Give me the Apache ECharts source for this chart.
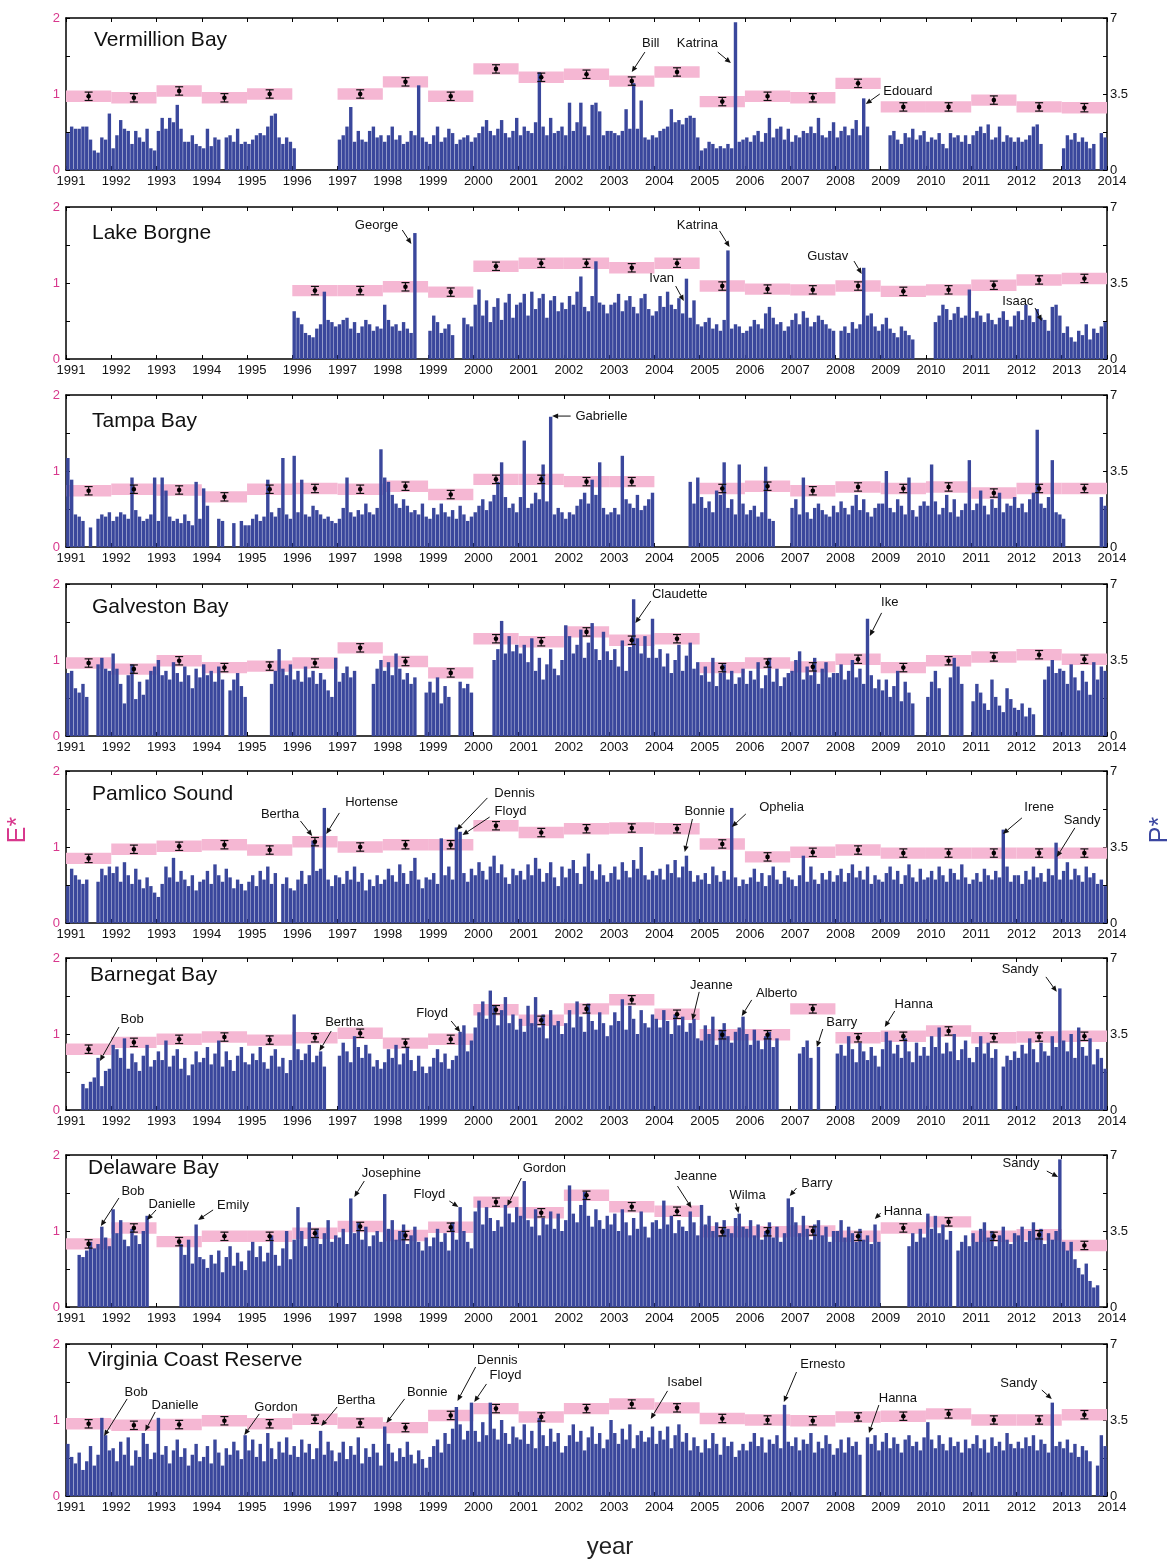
<!DOCTYPE html>
<html>
<head>
<meta charset="utf-8">
<script src="https://cdn.jsdelivr.net/npm/echarts@6/dist/echarts.min.js"></script>
<style>
html, body { margin: 0; padding: 0; background: #fff; }
#chart { width: 1173px; height: 1560px; }
</style>
</head>
<body>
<div id="chart"></div>
<script>
// Monthly P* per year (rows 1991..2013, 12 values each; null = no record)
const FIRST_YEAR = 1991;
const LAST_YEAR = 2014;

const vermillionP = [
  [1.7,2.0,1.9,1.9,2.0,2.0,1.4,0.9,0.8,1.5,1.4,2.6],
  [1.0,1.6,2.3,1.9,1.8,1.2,1.8,1.5,1.3,1.9,1.0,0.9],
  [1.8,2.4,1.9,2.4,2.2,3.0,1.9,1.3,1.3,1.6,1.2,1.1],
  [1.0,1.9,1.1,1.5,1.4,null,1.5,1.6,1.3,1.9,1.2,1.3],
  [1.2,1.4,1.6,1.7,1.6,2.0,2.5,2.6,1.5,1.2,1.5,1.3],
  [1.0,null,null,null,null,null,null,null,null,null,null,null],
  [1.4,1.6,2.0,2.9,1.3,1.8,1.4,1.3,1.8,2.0,1.5,1.6],
  [1.3,1.6,2.0,1.4,1.6,1.2,1.3,1.8,1.6,3.9,1.5,1.3],
  [1.2,1.6,2.0,1.3,1.5,1.9,1.7,1.2,1.4,1.5,1.6,1.3],
  [1.5,1.7,2.0,2.3,1.8,1.6,1.9,2.3,1.7,1.5,1.8,2.4],
  [1.6,2.0,1.8,1.7,2.2,4.5,2.0,1.6,2.4,1.7,1.8,2.0],
  [1.6,3.1,1.8,2.2,3.1,2.0,1.6,3.0,3.1,2.7,1.6,1.8],
  [1.8,1.7,1.6,1.8,2.8,1.9,4.0,1.9,3.2,1.5,1.4,1.6],
  [1.5,1.8,1.9,2.0,2.8,2.2,2.3,2.1,2.4,2.5,2.4,1.5],
  [0.9,1.0,1.3,1.2,1.0,1.1,1.0,1.2,1.0,6.8,1.3,1.4],
  [1.5,1.3,1.6,1.8,1.3,1.7,2.4,1.5,1.9,2.0,1.4,1.9],
  [1.3,1.6,1.5,1.8,1.7,2.0,1.7,2.4,1.6,1.5,1.8,2.2],
  [1.5,1.8,2.0,1.6,1.9,2.3,1.6,3.3,2.0,null,null,null],
  [null,null,1.6,1.8,1.4,1.2,1.7,1.5,1.9,1.4,1.6,1.8],
  [1.3,1.5,1.4,1.7,1.2,1.0,1.7,1.5,1.6,1.3,1.6,1.2],
  [1.6,1.8,2.0,1.7,2.1,1.4,1.5,2.0,1.3,1.6,1.5,1.3],
  [1.5,1.3,1.4,1.6,2.0,2.1,1.2,null,null,null,null,null],
  [1.0,1.6,1.4,1.7,1.3,1.5,1.3,1.0,1.2,null,1.7,1.5]
];
const vermillionE = [0.97,0.95,1.04,0.95,1.0,null,1.0,1.16,0.97,1.33,1.22,1.26,1.17,1.29,0.9,0.97,0.95,1.14,0.83,0.83,0.92,0.83,0.82];

const borgneP = [
  null, null, null, null, null,
  [2.2,1.9,1.6,1.2,1.1,1.0,1.4,1.6,3.1,1.8,1.7,1.5],
  [1.6,1.8,1.9,1.4,1.7,1.2,1.5,1.8,1.6,1.3,1.5,1.4],
  [2.5,1.8,1.5,1.6,1.3,1.7,1.4,1.2,5.8,null,null,null],
  [1.3,2.0,1.7,1.2,1.4,1.6,1.1,null,null,1.9,1.6,1.5],
  [2.5,3.2,2.0,2.7,1.7,2.4,2.8,1.8,2.6,3.0,1.9,2.5],
  [2.6,3.0,2.0,3.1,2.3,2.8,3.0,1.9,2.7,2.9,2.2,2.6],
  [2.3,2.9,2.5,3.1,3.8,2.4,2.2,2.9,4.5,2.6,2.5,2.1],
  [2.5,2.6,3.0,2.2,2.7,2.9,2.4,2.1,2.8,3.0,2.3,2.0],
  [2.2,2.9,2.4,3.1,2.5,2.3,2.8,2.1,3.7,1.9,2.7,1.6],
  [1.5,1.7,1.9,1.4,1.6,1.3,1.8,5.0,1.4,1.6,1.5,1.2],
  [1.3,1.5,1.8,1.6,1.4,2.1,2.4,1.9,1.6,1.7,1.3,1.5],
  [1.8,2.1,1.6,2.2,1.9,1.5,1.7,2.0,1.8,1.6,1.4,1.3],
  [null,1.3,1.5,1.2,1.7,1.4,1.6,4.2,2.0,2.1,1.5,1.3],
  [1.6,1.9,1.4,1.2,1.0,1.5,1.3,1.1,0.9,null,null,null],
  [null,null,1.7,2.0,2.5,2.3,1.8,2.1,2.4,1.9,2.0,3.2],
  [1.9,2.2,2.0,1.7,2.1,1.8,1.6,1.9,2.2,1.8,1.5,2.0],
  [2.2,1.8,2.5,2.0,1.7,2.3,1.9,1.8,1.3,2.4,2.5,2.0],
  [1.2,1.5,1.0,0.8,1.3,1.1,1.6,0.9,1.4,1.2,1.5,1.7]
];
const borgneE = [null,null,null,null,null,0.90,0.90,0.95,0.88,1.22,1.26,1.26,1.20,1.26,0.96,0.92,0.91,0.96,0.89,0.91,0.97,1.04,1.06];

const tampaP = [
  [4.1,3.1,1.5,1.4,1.2,null,0.9,null,1.3,1.5,1.4,1.6],
  [1.2,1.4,1.6,1.5,1.3,3.2,1.7,1.4,1.2,1.3,1.5,3.2],
  [1.2,3.2,2.6,1.4,1.2,1.3,1.1,1.5,1.2,1.0,3.0,1.3],
  [2.7,1.9,null,null,1.3,1.2,null,null,1.1,null,1.2,1.0],
  [1.0,1.3,1.5,1.2,1.4,3.1,1.6,1.4,1.8,4.1,1.5,1.3],
  [4.2,1.6,3.1,1.5,1.4,1.9,1.7,1.5,1.3,1.4,1.2,1.1],
  [1.3,1.8,3.2,1.6,1.4,1.7,1.5,2.0,1.6,1.5,1.8,4.5],
  [3.2,3.0,2.4,2.0,1.8,2.2,1.9,1.6,1.7,1.5,2.0,1.4],
  [1.3,1.8,1.5,2.0,1.6,1.4,1.7,1.3,1.9,1.5,1.2,1.4],
  [1.6,1.9,2.2,1.7,2.1,2.4,3.0,3.9,2.3,1.8,2.0,1.6],
  [2.3,4.9,1.8,2.0,2.5,2.2,3.8,2.1,6.0,1.5,1.8,1.6],
  [1.3,1.6,1.5,1.9,2.2,2.5,2.0,3.1,2.4,3.9,1.8,1.5],
  [1.6,1.8,1.5,4.2,2.2,2.0,1.8,2.4,1.7,1.9,2.2,2.5],
  [null,null,null,null,null,null,null,null,null,3.0,2.0,3.2],
  [2.3,1.8,2.1,1.6,2.6,2.4,3.9,1.8,2.2,1.5,3.8,2.0],
  [1.5,1.7,1.9,1.4,1.6,3.7,1.3,1.2,null,null,null,null],
  [1.8,2.2,1.5,3.2,1.6,1.3,1.8,2.0,1.7,1.5,1.4,1.9],
  [1.6,2.1,1.8,1.5,1.9,2.4,1.7,2.2,1.6,1.4,1.8,2.0],
  [2.0,3.5,1.8,1.6,2.2,1.9,1.5,3.2,1.7,1.4,1.9,2.1],
  [1.9,3.8,2.1,1.5,1.8,2.4,1.6,2.2,1.4,1.7,2.0,4.0],
  [1.7,2.0,2.6,1.9,1.5,2.2,1.8,2.5,1.6,2.0,1.9,2.3],
  [1.8,2.0,1.6,2.2,2.5,5.4,2.0,1.8,2.3,4.0,1.6,1.5],
  [1.3,null,null,null,null,null,null,null,null,null,2.3,1.9]
];
const tampaE = [0.74,0.76,0.75,0.66,0.76,0.77,0.76,0.80,0.69,0.89,0.89,0.86,0.86,null,0.77,0.80,0.74,0.79,0.77,0.79,0.71,0.77,0.77];

const galvestonP = [
  [2.9,3.0,2.2,2.0,2.4,1.8,null,null,3.3,3.6,3.1,3.0],
  [3.8,3.1,2.4,1.5,2.8,3.3,1.7,2.5,1.9,2.6,3.0,3.2],
  [3.5,2.8,3.0,2.6,3.4,2.9,2.5,3.2,2.8,2.2,3.1,2.7],
  [3.3,2.8,3.0,2.5,3.2,2.6,null,2.1,2.6,2.9,2.3,1.8],
  [null,null,null,null,null,null,2.4,3.0,4.0,3.1,2.8,3.3],
  [2.6,3.0,2.5,3.2,2.7,3.0,2.4,2.9,2.6,2.1,1.8,3.6],
  [2.5,2.9,3.2,2.7,3.0,null,null,null,null,2.4,3.1,3.5],
  [3.0,3.4,2.8,3.8,3.1,2.6,2.9,2.4,2.7,null,null,2.0],
  [2.5,2.0,2.7,1.5,2.3,1.8,null,null,2.5,2.2,2.4,2.0],
  [null,null,null,null,null,3.5,4.0,5.3,3.8,4.6,3.9,4.2],
  [3.8,4.2,3.4,4.5,3.0,3.6,2.6,3.3,4.0,3.1,2.8,3.5],
  [5.1,4.6,3.8,4.2,4.9,3.6,4.3,5.2,4.0,3.5,4.8,3.9],
  [3.5,4.0,3.2,4.4,3.0,4.1,6.3,4.5,3.8,4.6,3.6,5.4],
  [3.6,4.0,3.2,3.8,2.9,3.5,4.2,3.0,3.7,4.3,3.1,3.4],
  [2.8,3.2,2.5,3.6,2.3,2.9,3.3,2.6,3.0,2.4,2.7,3.1],
  [2.4,3.0,2.6,3.4,2.2,2.8,3.6,2.5,3.1,2.3,2.7,2.9],
  [3.0,3.5,3.9,2.6,3.2,2.8,3.6,2.4,3.1,3.4,2.7,2.9],
  [2.9,3.3,2.6,3.0,3.5,2.7,3.1,2.4,5.4,2.8,2.2,2.6],
  [2.1,2.6,1.8,2.3,3.0,1.6,2.5,2.0,1.5,null,null,null],
  [1.8,2.5,3.0,2.2,null,null,2.7,3.6,3.2,2.4,null,null],
  [1.6,2.4,2.0,1.5,1.2,2.6,1.8,1.4,1.1,2.2,1.7,1.3],
  [1.2,1.5,0.9,1.3,1.0,null,null,2.6,3.2,3.5,2.9,3.1],
  [3.0,2.4,3.3,2.7,2.1,3.0,2.5,1.9,3.4,2.6,3.2,3.0]
];
const galvestonE = [0.96,0.88,0.99,0.90,0.92,0.96,1.16,0.98,0.83,1.28,1.24,1.37,1.26,1.28,0.90,0.96,0.91,1.01,0.90,0.99,1.04,1.07,1.01];

const pamlicoP = [
  [1.7,2.5,2.2,2.0,1.8,2.0,null,null,1.9,2.5,2.2,2.6],
  [2.3,2.6,1.9,2.8,2.2,1.8,2.5,2.0,1.6,2.1,1.7,1.4],
  [1.2,1.8,2.6,2.1,3.0,1.9,2.4,2.0,1.7,2.2,1.5,1.9],
  [2.0,2.4,1.8,2.7,2.2,1.9,2.5,2.1,1.6,2.0,1.8,1.5],
  [1.9,2.2,1.7,2.4,2.0,2.6,1.8,2.3,null,1.8,2.1,1.6],
  [1.5,2.0,2.4,1.8,2.2,3.8,2.4,2.5,5.3,2.0,1.7,2.2],
  [2.1,1.8,2.4,2.0,2.6,1.9,2.3,1.5,2.0,1.7,2.2,1.8],
  [2.0,2.5,2.2,1.9,2.7,2.3,1.8,2.4,3.0,2.0,1.6,2.1],
  [2.0,2.3,1.8,3.9,2.2,2.6,2.0,4.4,4.2,2.3,1.9,2.5],
  [2.2,2.8,2.4,2.0,2.6,3.1,2.3,2.7,2.1,1.8,2.5,2.2],
  [2.4,2.0,2.7,2.2,3.0,2.5,1.9,2.3,2.8,2.1,1.7,2.6],
  [2.1,2.5,2.9,2.3,1.8,2.6,3.2,2.4,2.0,2.7,2.2,1.9],
  [2.3,2.6,2.0,2.8,2.4,2.1,2.9,2.5,3.5,2.2,2.0,2.4],
  [2.2,2.5,2.0,2.7,2.3,2.9,2.1,2.6,3.1,2.4,1.9,2.2],
  [2.0,2.3,1.8,2.6,2.2,1.9,2.4,2.0,5.3,2.1,1.7,2.0],
  [1.8,2.1,2.5,1.9,2.3,1.7,2.2,2.6,2.0,1.8,2.4,2.1],
  [2.0,1.7,2.2,3.1,1.9,2.6,2.0,1.8,2.3,2.0,2.4,1.9],
  [2.2,2.5,1.9,2.3,2.7,2.1,2.4,2.0,2.6,1.8,2.2,2.0],
  [1.9,2.3,2.6,2.0,2.4,1.8,2.2,2.7,2.1,1.9,2.5,2.0],
  [2.1,2.4,2.0,2.6,2.2,1.9,2.5,2.3,2.0,2.7,2.1,1.8],
  [2.0,2.3,1.9,2.5,2.2,2.0,2.4,2.1,4.3,2.6,1.9,2.2],
  [2.2,1.8,2.4,2.0,2.6,2.1,2.3,1.9,2.5,2.2,3.7,2.0],
  [2.4,2.8,2.0,2.5,2.2,1.9,2.6,2.1,2.3,1.8,2.0,1.7]
];
const pamlicoE = [0.85,0.97,1.01,1.03,0.96,1.07,1.0,1.03,1.03,1.28,1.19,1.24,1.25,1.24,1.04,0.87,0.93,0.96,0.92,0.92,0.92,0.92,0.92];

const barnegatP = [
  [null,null,null,null,1.2,1.0,1.3,1.5,2.4,1.1,1.8,1.9],
  [3.0,2.8,2.4,3.3,1.9,2.6,2.2,1.8,2.5,3.0,2.0,2.3],
  [2.7,2.3,3.2,2.0,2.5,2.8,1.9,2.4,1.6,2.1,2.7,2.2],
  [2.4,2.9,2.1,2.6,3.2,2.0,2.7,2.3,1.8,2.5,2.9,2.2],
  [2.1,2.6,2.3,2.9,2.2,1.9,2.5,2.8,2.0,2.4,1.7,2.3],
  [4.4,2.8,2.3,2.6,3.0,2.2,2.5,2.7,2.0,null,null,null],
  [2.5,3.1,2.7,2.2,3.4,2.9,2.4,3.0,2.6,2.0,2.3,1.9],
  [2.2,2.8,2.4,3.0,2.1,2.6,2.9,2.3,1.8,2.5,2.0,1.7],
  [2.0,2.4,2.8,2.2,2.6,1.9,2.3,2.5,3.6,3.9,2.7,3.2],
  [3.8,4.5,5.0,4.2,5.5,4.8,3.9,4.6,5.2,4.0,4.4,3.7],
  [4.2,3.6,4.8,4.0,5.2,3.8,4.4,3.3,4.6,3.9,4.1,3.5],
  [4.0,4.6,3.8,5.0,4.3,3.6,4.9,4.1,3.7,4.5,4.0,3.4],
  [3.9,4.5,4.1,5.1,3.7,4.8,4.2,3.5,4.6,4.0,3.8,4.4],
  [4.2,3.8,4.6,4.1,3.5,4.4,3.9,4.3,3.6,4.0,4.2,3.3],
  [3.2,3.9,3.5,4.3,3.0,3.7,4.0,3.4,3.1,3.6,3.8,4.3],
  [3.5,3.0,3.7,3.2,2.8,3.4,3.6,2.9,3.3,null,null,null],
  [null,null,2.6,2.9,3.2,2.4,null,2.9,null,null,null,null],
  [2.6,3.0,2.5,3.4,2.8,2.2,3.1,2.7,2.3,2.9,2.5,2.0],
  [2.8,3.6,3.2,2.6,3.0,2.4,3.3,2.7,2.2,3.1,2.5,2.9],
  [2.5,3.4,2.9,3.8,2.6,3.1,2.7,3.5,2.3,2.8,3.2,2.4],
  [2.2,2.9,3.4,2.6,3.1,2.4,2.8,null,2.0,2.5,2.3,2.7],
  [2.4,3.0,2.6,3.3,2.8,2.2,3.1,2.7,2.5,3.4,2.9,5.6],
  [3.2,2.7,3.5,2.4,3.8,2.9,2.5,3.3,2.1,2.8,2.4,1.9]
];
const barnegatE = [0.80,0.89,0.93,0.96,0.92,0.95,1.01,0.88,0.93,1.32,1.18,1.33,1.45,1.26,0.99,0.99,1.33,0.95,0.97,1.04,0.95,0.96,0.97];

const delawareP = [
  [null,null,null,2.4,2.3,2.6,3.0,2.7,2.9,3.7,3.2,2.8],
  [4.5,3.4,4.0,3.1,2.8,3.6,3.3,2.9,3.5,4.2,null,null],
  [null,null,null,null,null,null,2.9,2.4,3.1,2.0,3.8,2.3],
  [2.2,1.8,2.4,2.0,2.6,1.6,2.3,2.8,1.9,2.5,2.1,1.7],
  [2.6,3.0,2.3,2.8,2.1,2.5,3.3,2.4,1.9,2.7,3.5,2.2],
  [3.1,4.6,3.5,2.8,3.9,3.2,3.6,2.9,3.4,4.0,3.0,3.3],
  [3.2,3.6,2.9,5.0,3.4,3.9,3.1,3.7,2.8,3.3,3.5,3.0],
  [5.2,3.6,4.0,3.1,3.5,3.8,2.9,3.3,3.7,3.0,2.6,3.2],
  [2.8,3.2,3.6,3.0,3.4,2.6,3.9,3.1,4.6,3.5,3.0,2.7],
  [4.4,4.9,3.8,4.6,4.1,3.5,4.0,3.7,4.7,4.3,3.9,4.6],
  [4.2,5.8,4.0,3.7,4.5,3.3,4.1,3.8,4.4,3.6,4.3,3.5],
  [4.0,5.6,4.3,3.9,4.7,5.3,4.2,3.7,4.5,4.0,3.6,4.2],
  [3.8,4.3,3.5,4.5,3.9,3.3,4.1,3.6,4.4,3.7,3.2,3.9],
  [4.0,3.6,4.9,3.8,4.2,3.4,4.0,3.7,3.5,4.4,3.9,3.3],
  [4.7,3.8,4.2,3.5,3.9,3.3,4.0,3.6,3.4,4.1,4.3,3.7],
  [3.6,4.0,3.3,3.8,3.1,3.5,3.9,3.2,3.7,3.0,3.4,5.0],
  [4.6,3.9,3.4,4.2,3.6,3.1,3.8,4.0,3.3,3.7,3.0,3.5],
  [3.5,4.0,3.2,3.7,3.4,3.0,3.6,3.1,3.3,2.9,3.8,3.0],
  [null,null,null,null,null,null,null,2.8,3.4,3.0,3.6,3.2],
  [4.3,3.6,4.2,3.4,3.8,3.1,3.5,null,2.6,3.0,3.3,2.8],
  [3.4,3.0,3.6,3.9,3.2,3.5,2.8,3.3,3.7,3.1,2.9,3.4],
  [3.3,3.7,3.0,3.5,3.9,3.2,3.6,2.9,3.4,3.1,3.5,6.8],
  [3.0,2.6,3.0,2.2,1.8,1.5,2.0,1.2,0.9,1.0,null,null]
];
const delawareE = [0.83,1.04,0.86,0.93,0.93,0.97,1.06,0.94,1.05,1.38,1.24,1.47,1.32,1.26,0.99,0.99,1.0,0.93,1.04,1.12,0.93,0.95,0.81];

const virginiaP = [
  [2.4,1.8,1.5,2.0,1.2,1.6,2.3,1.4,1.9,3.6,2.8,2.1],
  [2.2,1.6,2.5,1.9,2.7,1.4,2.1,1.8,2.9,2.4,1.7,2.0],
  [3.6,1.9,2.3,1.5,2.1,2.6,1.8,2.2,1.4,1.9,2.4,1.6],
  [1.8,2.3,1.5,2.6,2.0,1.4,2.2,1.9,2.5,2.1,1.7,2.8],
  [2.1,2.6,1.8,2.4,1.6,2.9,2.2,1.7,2.5,2.0,2.7,1.9],
  [2.3,1.8,2.6,2.0,2.4,1.7,2.2,3.0,1.9,2.5,2.1,1.6],
  [2.0,2.5,1.7,2.3,1.9,2.7,1.5,2.2,1.8,2.4,2.0,1.4],
  [3.2,2.4,2.0,1.6,2.2,1.8,2.5,1.9,1.5,2.1,1.7,1.3],
  [1.8,2.3,2.6,2.0,2.9,2.4,3.1,4.1,3.3,2.6,3.0,4.3],
  [3.0,2.5,3.4,2.8,4.3,3.1,2.6,3.5,2.9,2.4,3.2,2.7],
  [2.6,3.3,2.4,3.0,2.2,3.6,2.8,2.3,3.1,2.5,2.9,2.0],
  [2.3,2.8,3.3,2.5,3.0,2.1,2.7,3.2,2.4,2.9,2.2,2.6],
  [3.5,2.9,2.4,3.1,2.6,3.3,2.2,2.8,3.0,2.5,2.7,3.2],
  [2.4,3.0,2.6,3.2,2.2,2.8,3.3,2.5,2.9,2.1,2.7,2.3],
  [2.0,2.6,2.2,2.9,2.4,1.9,2.7,2.3,2.5,1.8,2.1,2.4],
  [2.1,2.5,2.9,2.3,2.7,2.0,2.6,2.4,2.8,2.2,4.2,2.5],
  [2.3,2.7,2.1,2.6,2.4,2.9,2.0,2.5,2.2,2.8,2.4,1.9],
  [2.2,2.6,2.0,2.7,2.3,2.5,1.9,null,2.7,2.4,2.8,2.1],
  [2.5,2.9,2.2,2.7,2.4,2.0,2.6,2.8,2.3,2.5,2.1,2.7],
  [3.4,2.6,2.2,2.8,2.4,2.1,2.7,2.3,2.5,2.0,2.6,2.2],
  [2.4,2.8,2.2,2.6,2.0,2.7,2.3,2.5,2.1,2.9,2.4,2.2],
  [2.5,2.2,2.7,2.3,2.8,2.1,2.6,2.4,2.0,4.3,2.3,2.5],
  [2.2,2.6,2.0,2.4,1.8,2.3,2.1,1.6,null,1.4,2.8,2.3]
];
const virginiaE = [0.95,0.93,0.94,0.99,0.95,1.01,0.96,0.90,1.06,1.15,1.04,1.15,1.21,1.16,1.02,1.0,0.99,1.04,1.05,1.08,1.0,1.0,1.07];

// Storm notes: [name, text year, text P*, arrow tail year, tail P*, arrow tip year, tip P*]
const vermillionNotes = [
  ['Bill', 2003.92, 5.85, 2003.79, 5.43, 2003.50, 4.51],
  ['Katrina', 2004.95, 5.85, 2005.40, 5.43, 2005.69, 4.93],
  ['Edouard', 2009.60, 3.64, 2008.98, 3.50, 2008.67, 3.04]
];
const borgneNotes = [
  ['George', 1997.86, 6.17, 1998.43, 5.94, 1998.63, 5.30],
  ['Katrina', 2004.95, 6.17, 2005.44, 5.90, 2005.66, 5.16],
  ['Gustav', 2007.83, 4.74, 2008.41, 4.51, 2008.58, 3.92],
  ['Ivan', 2004.16, 3.73, 2004.47, 3.36, 2004.65, 2.67],
  ['Isaac', 2012.03, 2.63, 2012.41, 2.35, 2012.56, 1.75]
];
const tampaNotes = [
  ['Gabrielle', 2002.83, 6.03, 2002.15, 6.03, 2001.74, 6.03]
];
const galvestonNotes = [
  ['Claudette', 2004.56, 6.54, 2003.92, 6.22, 2003.58, 5.20],
  ['Ike', 2009.20, 6.13, 2009.02, 5.67, 2008.76, 4.61]
];
const pamlicoNotes = [
  ['Bertha', 1995.73, 5.02, 1996.18, 4.70, 1996.44, 4.01],
  ['Hortense', 1997.75, 5.53, 1997.04, 5.07, 1996.75, 4.10],
  ['Dennis', 2000.91, 5.99, 2000.31, 5.76, 1999.63, 4.28],
  ['Floyd', 2000.82, 5.16, 2000.36, 4.88, 1999.76, 4.05],
  ['Bonnie', 2005.11, 5.16, 2004.84, 4.79, 2004.67, 3.27],
  ['Ophelia', 2006.81, 5.34, 2006.02, 5.02, 2005.71, 4.42],
  ['Irene', 2012.50, 5.30, 2012.12, 4.84, 2011.70, 4.10],
  ['Sandy', 2013.45, 4.74, 2013.29, 4.38, 2012.89, 3.04]
];
const barnegatNotes = [
  ['Bob', 1992.46, 4.15, 1992.17, 3.82, 1991.75, 2.26],
  ['Bertha', 1997.15, 4.05, 1996.86, 3.64, 1996.60, 2.72],
  ['Floyd', 1999.09, 4.47, 1999.51, 4.10, 1999.71, 3.59],
  ['Jeanne', 2005.26, 5.76, 2004.99, 5.44, 2004.84, 4.15],
  ['Alberto', 2006.70, 5.39, 2006.15, 5.07, 2005.93, 4.33],
  ['Barry', 2008.14, 4.05, 2007.72, 3.73, 2007.59, 2.90],
  ['Hanna', 2009.73, 4.88, 2009.31, 4.56, 2009.09, 3.82],
  ['Sandy', 2012.08, 6.49, 2012.65, 6.13, 2012.89, 5.44]
];
const delawareNotes = [
  ['Bob', 1992.48, 5.34, 1992.17, 5.02, 1991.77, 3.73],
  ['Danielle', 1993.34, 4.74, 1992.99, 4.47, 1992.79, 4.01],
  ['Emily', 1994.69, 4.70, 1994.25, 4.47, 1993.92, 4.01],
  ['Josephine', 1998.19, 6.17, 1997.59, 5.80, 1997.37, 5.07],
  ['Floyd', 1999.03, 5.20, 1999.47, 4.88, 1999.67, 4.61],
  ['Gordon', 2001.57, 6.40, 2001.06, 5.94, 2000.75, 4.65],
  ['Jeanne', 2004.91, 6.03, 2004.51, 5.57, 2004.82, 4.56],
  ['Wilma', 2006.06, 5.16, 2005.80, 4.79, 2005.86, 4.33],
  ['Barry', 2007.59, 5.67, 2007.14, 5.48, 2006.99, 5.11],
  ['Hanna', 2009.49, 4.42, 2009.00, 4.33, 2008.87, 4.05],
  ['Sandy', 2012.10, 6.63, 2012.67, 6.26, 2012.92, 5.99]
];
const virginiaNotes = [
  ['Bob', 1992.55, 4.79, 1992.35, 4.47, 1991.84, 2.76],
  ['Danielle', 1993.41, 4.15, 1992.97, 3.87, 1992.75, 2.99],
  ['Gordon', 1995.64, 4.10, 1995.27, 3.78, 1994.94, 2.81],
  ['Bertha', 1997.41, 4.38, 1996.99, 4.10, 1996.64, 3.22],
  ['Bonnie', 1998.98, 4.79, 1998.48, 4.47, 1998.08, 3.36],
  ['Dennis', 2000.53, 6.26, 2000.05, 5.94, 1999.65, 4.38],
  ['Floyd', 2000.71, 5.53, 2000.29, 5.16, 2000.02, 4.33],
  ['Isabel', 2004.67, 5.25, 2004.29, 4.84, 2003.92, 3.55],
  ['Ernesto', 2007.72, 6.08, 2007.14, 5.71, 2006.86, 4.33],
  ['Hanna', 2009.38, 4.51, 2008.96, 4.19, 2008.74, 2.90],
  ['Sandy', 2012.05, 5.20, 2012.56, 4.88, 2012.78, 4.47]
];

const panelNames = ['Vermillion Bay', 'Lake Borgne', 'Tampa Bay', 'Galveston Bay',
  'Pamlico Sound', 'Barnegat Bay', 'Delaware Bay', 'Virginia Coast Reserve'];
const panelP = [vermillionP, borgneP, tampaP, galvestonP, pamlicoP, barnegatP, delawareP, virginiaP];
const panelE = [vermillionE, borgneE, tampaE, galvestonE, pamlicoE, barnegatE, delawareE, virginiaE];
const panelNotes = [vermillionNotes, borgneNotes, tampaNotes, galvestonNotes, pamlicoNotes, barnegatNotes, delawareNotes, virginiaNotes];

// Layout
const GRID_TOPS = [18, 207, 395, 584, 771, 958, 1155, 1344];
const GRID_H = 152;
const GRID_LEFT = 66;
const GRID_RIGHT = 66;
const TITLE_POS = [[94, 42], [92, 235], [92, 423], [92, 609], [92, 796], [90, 977], [88, 1170], [88, 1362]];

const BAR_COLOR = '#3a479c';
const BAND_COLOR = '#f5b7d3';
const MAGENTA = '#d8388d';
const BLUE = '#3a46a0';
const BAND_HALF = 0.075;  // half height of the annual E* band
const ERR_HALF = 0.055;   // half length of the E* error whisker
const FONT = '"Liberation Sans", Arial, sans-serif';

function barData(rows) {
  const out = [];
  rows.forEach((row, k) => {
    if (!row) return;
    row.forEach((v, m) => {
      if (v != null) out.push([FIRST_YEAR + k + (m + 0.5) / 12, v]);
    });
  });
  return out;
}
function annualData(vals) {
  const out = [];
  vals.forEach((e, k) => { if (e != null) out.push([FIRST_YEAR + k, e]); });
  return out;
}

const grids = [], xAxes = [], yAxes = [], series = [], graphics = [];

panelNames.forEach((name, i) => {
  grids.push({ left: GRID_LEFT, right: GRID_RIGHT, top: GRID_TOPS[i], height: GRID_H });

  const xBase = {
    type: 'value', gridIndex: i, min: FIRST_YEAR, max: LAST_YEAR, interval: 1,
    axisLine: { show: true, onZero: false, lineStyle: { color: '#000', width: 1.5 } },
    axisTick: { show: true, inside: true, length: 4, lineStyle: { color: '#000' } },
    splitLine: { show: false }
  };
  xAxes.push(Object.assign({}, xBase, {
    position: 'bottom',
    axisLabel: { show: true, fontSize: 13, color: '#111', fontFamily: FONT, margin: 5,
      padding: [0, 0, 0, 10], formatter: v => String(v) }
  }));
  xAxes.push(Object.assign({}, xBase, { position: 'top', axisLabel: { show: false } }));

  yAxes.push({
    type: 'value', gridIndex: i, position: 'left', min: 0, max: 2, interval: 0.5,
    axisLine: { show: true, lineStyle: { color: '#000', width: 1.5 } },
    axisTick: { show: true, inside: true, length: 4, lineStyle: { color: '#000' } },
    splitLine: { show: false },
    axisLabel: { fontSize: 13, color: MAGENTA, fontFamily: FONT, margin: 6,
      formatter: v => (v === 0 || v === 1 || v === 2) ? String(v) : '' }
  });
  yAxes.push({
    type: 'value', gridIndex: i, position: 'right', min: 0, max: 7, interval: 1.75,
    axisLine: { show: true, lineStyle: { color: '#000', width: 1.5 } },
    axisTick: { show: true, inside: true, length: 4, lineStyle: { color: '#000' } },
    splitLine: { show: false },
    axisLabel: { fontSize: 13, color: '#111', fontFamily: FONT, margin: 3,
      formatter: v => (v === 0 || v === 3.5 || v === 7) ? String(v) : '' }
  });

  const xIdx = i * 2, eIdx = i * 2, pIdx = i * 2 + 1;
  const annual = annualData(panelE[i]);

  // annual E* bands
  series.push({
    type: 'custom', xAxisIndex: xIdx, yAxisIndex: eIdx, z: 1, silent: true,
    encode: { x: 0, y: 1 },
    data: annual,
    renderItem: (params, api) => {
      const yr = api.value(0), e = api.value(1);
      const a = api.coord([yr, e + BAND_HALF]);
      const b = api.coord([yr + 1, e - BAND_HALF]);
      return { type: 'rect', shape: { x: a[0], y: a[1], width: b[0] - a[0], height: b[1] - a[1] },
        style: { fill: BAND_COLOR } };
    }
  });

  // P* bars
  series.push({
    type: 'bar', xAxisIndex: xIdx, yAxisIndex: pIdx, z: 2, silent: true,
    barWidth: 3.4, itemStyle: { color: BAR_COLOR },
    data: barData(panelP[i])
  });

  // annual E* points with error whiskers
  series.push({
    type: 'custom', xAxisIndex: xIdx, yAxisIndex: eIdx, z: 3, silent: true,
    encode: { x: 0, y: 1 },
    data: annual,
    renderItem: (params, api) => {
      const yr = api.value(0) + 0.5, e = api.value(1);
      const c = api.coord([yr, e]);
      const hi = api.coord([yr, e + ERR_HALF]);
      const lo = api.coord([yr, e - ERR_HALF]);
      const ls = { stroke: '#111', lineWidth: 1.2 };
      return { type: 'group', children: [
        { type: 'line', shape: { x1: c[0], y1: hi[1], x2: c[0], y2: lo[1] }, style: ls },
        { type: 'line', shape: { x1: c[0] - 4, y1: hi[1], x2: c[0] + 4, y2: hi[1] }, style: ls },
        { type: 'line', shape: { x1: c[0] - 4, y1: lo[1], x2: c[0] + 4, y2: lo[1] }, style: ls },
        { type: 'circle', shape: { cx: c[0], cy: c[1], r: 2.3 }, style: { fill: '#000' } }
      ] };
    }
  });

  // storm notes with arrows
  const notes = panelNotes[i];
  series.push({
    type: 'custom', xAxisIndex: xIdx, yAxisIndex: pIdx, z: 5, silent: true,
    encode: { x: 0, y: 1 },
    data: notes.map(n => n.slice(1)),
    renderItem: (params, api) => {
      const n = notes[params.dataIndex];
      const t = api.coord([n[1], n[2]]);
      const s = api.coord([n[3], n[4]]);
      const e = api.coord([n[5], n[6]]);
      const dx = e[0] - s[0], dy = e[1] - s[1];
      const len = Math.sqrt(dx * dx + dy * dy) || 1;
      const ux = dx / len, uy = dy / len;
      const hl = 6, hw = 2.6;
      const bx = e[0] - ux * hl, by = e[1] - uy * hl;
      return { type: 'group', children: [
        { type: 'text', x: t[0], y: t[1],
          style: { text: n[0], fill: '#111', font: '13px ' + FONT, align: 'center', verticalAlign: 'middle' } },
        { type: 'line', shape: { x1: s[0], y1: s[1], x2: bx, y2: by }, style: { stroke: '#111', lineWidth: 1 } },
        { type: 'polygon', shape: { points: [[e[0], e[1]], [bx - uy * hw, by + ux * hw], [bx + uy * hw, by - ux * hw]] },
          style: { fill: '#111' } }
      ] };
    }
  });

  graphics.push({
    type: 'text', left: TITLE_POS[i][0], top: TITLE_POS[i][1] - 12,
    style: { text: name, fill: '#111', font: '21px ' + FONT }
  });
});

graphics.push({
  type: 'text', x: 18, y: 830, rotation: Math.PI / 2,
  style: { text: 'E*', fill: MAGENTA, font: '25px ' + FONT, align: 'center', verticalAlign: 'middle' }
});
graphics.push({
  type: 'text', x: 1160, y: 830, rotation: Math.PI / 2,
  style: { text: 'P*', fill: BLUE, font: '25px ' + FONT, align: 'center', verticalAlign: 'middle' }
});
graphics.push({
  type: 'text', x: 610, y: 1547,
  style: { text: 'year', fill: '#222', font: '24px ' + FONT, align: 'center', verticalAlign: 'middle' }
});

const chart = echarts.init(document.getElementById('chart'), null, { renderer: 'canvas' });
chart.setOption({
  animation: false,
  backgroundColor: '#fff',
  textStyle: { fontFamily: FONT },
  grid: grids,
  xAxis: xAxes,
  yAxis: yAxes,
  series: series,
  graphic: graphics
});
</script>
</body>
</html>
